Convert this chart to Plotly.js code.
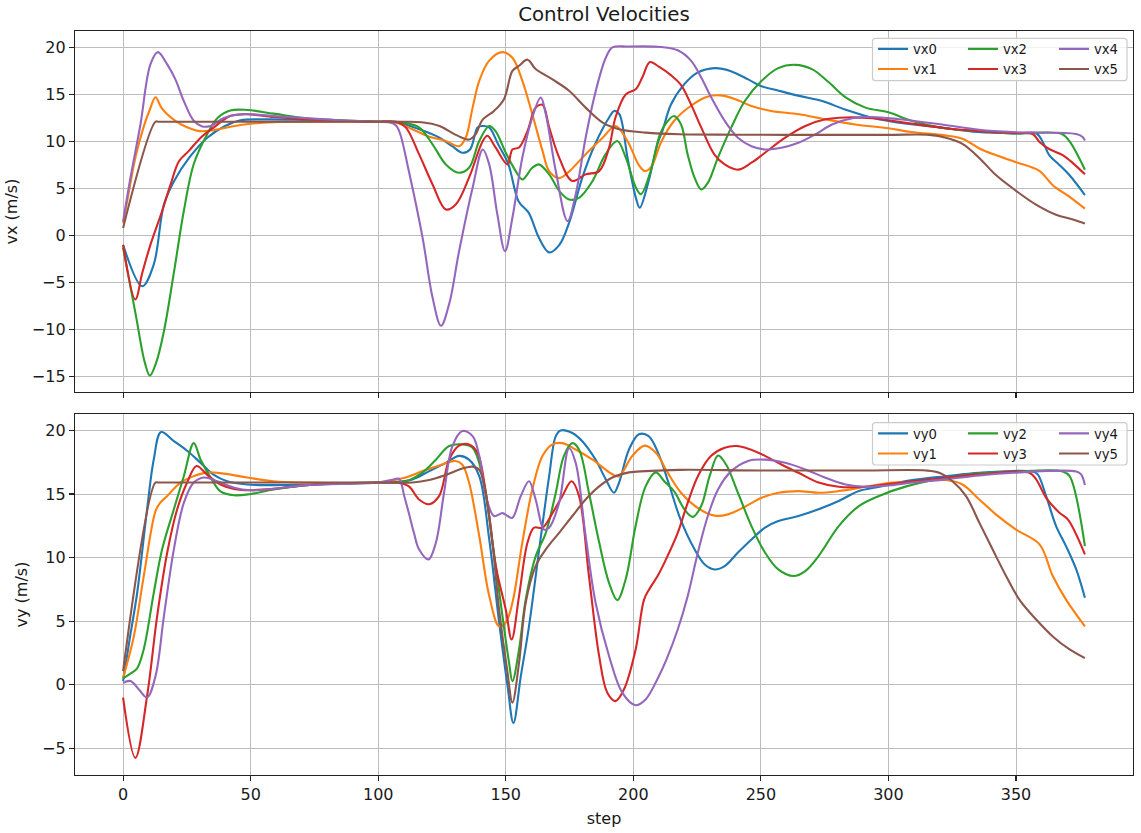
<!DOCTYPE html>
<html><head><meta charset="utf-8">
<script src="https://cdn.plot.ly/plotly-3.0.1.min.js"></script>
<style>html,body{margin:0;padding:0;background:#fff}#chart{width:1141px;height:833px}</style>
</head><body><div id="chart"></div>
<script>
// ---- data: [step, value] pairs ----
const vx0 = [[0,-1.0],[7.5,-5.4],[12,-3.1],[16,3.3],[20,5.8],[26,8.3],[33,10.4],[40,11.65],[46,12.25],[55,12.35],[70,12.3],[85,12.2],[100,12.1],[108,12.0],[116,11.3],[124,10.4],[129,9.5],[133,8.8],[136,9.15],[139,11.5],[141,11.65],[143.5,11.5],[147,9.7],[151,7.6],[155,3.65],[159,2.4],[163,-0.25],[167,-1.8],[171,-1.0],[175,1.5],[180,6.15],[185,9.7],[190.5,12.55],[192.5,13.25],[194.5,12.9],[197.7,8.3],[201,4.0],[202.5,2.95],[206,5.8],[209.5,9.8],[211.5,11.2],[214.7,13.9],[220,16.1],[225,17.3],[232,17.8],[238,17.5],[245,16.6],[250,15.9],[257,15.4],[265,14.85],[274,14.3],[283,13.4],[294,12.5],[304,12.0],[320,11.5],[335,11.0],[350,10.85],[358,10.85],[360.5,9.95],[363,8.55],[367,7.5],[371,6.4],[377,4.3]];
const vx1 = [[0,1.3],[2.5,5.0],[5,8.5],[8,11.5],[10.5,13.4],[12.7,14.7],[15,13.6],[17.3,12.9],[20.5,12.2],[24,11.65],[30,11.1],[35.5,11.2],[46,11.75],[59,12.05],[80,12.1],[100,12.1],[107,12.0],[113.4,11.3],[120,10.5],[126.5,10.05],[131.7,9.5],[134.3,10.4],[137,13.6],[139.6,16.45],[143.5,18.6],[148.7,19.5],[152.6,18.9],[156.5,16.45],[160.4,12.9],[164.4,9.0],[167,6.85],[171,6.1],[175,6.85],[181.3,8.65],[188,10.4],[193,11.65],[197.7,10.05],[202,7.56],[204.5,6.85],[207,7.3],[211,10.0],[216,12.2],[222.6,13.8],[229,14.75],[234,14.9],[240,14.5],[246,13.8],[254,13.25],[265,12.9],[275,12.36],[287,11.8],[300,11.4],[309,11.0],[322,10.65],[329,10.3],[336,9.2],[342,8.55],[350,7.8],[359,6.9],[364.4,5.35],[371,4.1],[377,2.85]];
const vx2 = [[0,-1.3],[5,-8.5],[8.5,-13.5],[10.5,-14.9],[13,-13.5],[16,-10.2],[20,-3.8],[23.8,2.6],[27.7,7.6],[33,10.8],[37,12.5],[42,13.3],[48.7,13.35],[59,12.96],[72,12.47],[85,12.25],[100,12.1],[110,12.0],[116,11.5],[121.3,9.7],[126.5,7.56],[131.7,6.67],[135.6,7.2],[139.6,10.05],[143.5,11.65],[146,11.1],[150,8.8],[153.9,6.85],[156.5,5.96],[160.4,7.2],[163,7.56],[167,6.5],[171,4.72],[174.8,3.83],[178.7,4.0],[184,5.78],[189,8.6],[193.7,10.05],[197,8.3],[201,5.1],[203,4.4],[206.5,6.6],[210.5,10.8],[213,12.0],[216,12.7],[218.7,11.8],[221.3,8.6],[224,6.15],[226.6,4.9],[229.2,5.6],[233.2,8.3],[238.4,11.5],[243.7,14.3],[250.3,16.45],[256.8,17.8],[263.4,18.15],[270,17.7],[276.6,16.3],[283.2,14.7],[291,13.6],[300,13.1],[309,12.2],[322,11.4],[336,11.1],[349,10.85],[368,10.8],[371,10.0],[377,7.0]];
const vx3 = [[0,-1.0],[4.8,-6.8],[7.5,-4.0],[10.7,-1.0],[15.3,2.6],[18.6,5.4],[21.9,7.9],[25.8,9.0],[30.4,10.4],[35.6,11.5],[42,12.7],[48.7,12.9],[59,12.6],[72,12.36],[85,12.2],[100,12.1],[107,12.1],[110.8,11.5],[116,8.65],[121.3,5.43],[126.5,2.77],[130.4,3.3],[135.6,6.15],[141,10.05],[142.8,10.6],[146,9.36],[150.7,7.56],[152.6,9.15],[155.2,9.36],[158.5,11.1],[161.7,13.6],[164.4,13.9],[167,11.5],[170.9,8.3],[176,5.8],[181.3,6.5],[186.6,6.85],[190.5,9.36],[193,12.55],[197,15.0],[200.9,15.55],[203.5,16.8],[206.5,18.45],[210,17.95],[214.7,17.05],[218.7,16.0],[222.6,13.95],[226.6,11.5],[231.8,8.6],[235.8,7.56],[241,7.0],[246.3,7.74],[251.6,8.8],[259.5,10.4],[267.4,11.65],[275.3,12.36],[283.2,12.55],[293.7,12.47],[304.2,12.1],[322.5,11.4],[335.6,11.1],[350,10.9],[356.5,10.8],[359.2,9.95],[363,9.2],[368.3,8.55],[372.3,7.7],[377,6.5]];
const vx4 = [[0,1.5],[3,6.3],[6.8,11.8],[10.7,18.2],[13.6,19.5],[17.3,18.2],[20.5,16.6],[23.8,14.3],[27.7,12.2],[31,11.6],[34.3,11.65],[39.5,12.5],[46,12.9],[59,12.7],[72,12.47],[85,12.25],[100,12.1],[105,12.0],[107,11.7],[108.5,10.9],[112,6.85],[117.4,-0.25],[121.3,-6.6],[124.6,-9.6],[127.8,-7.3],[131.7,-1.67],[137,5.08],[141,9.15],[143.5,7.56],[146.7,2.24],[149.7,-1.67],[152.6,1.88],[156.5,8.3],[160.4,12.55],[163.7,14.67],[165.7,12.9],[169.6,6.85],[174.2,1.53],[177.4,4.37],[181.3,10.4],[185.2,15.3],[189.2,18.9],[191.8,20.0],[198.3,20.1],[211,20.05],[217.4,19.7],[222.6,18.6],[226.6,16.8],[230.5,14.7],[235.8,12.2],[241,10.4],[246.3,9.5],[251.6,9.15],[258,9.33],[264.7,9.86],[271.3,10.75],[277.9,11.8],[285.8,12.47],[293.7,12.6],[304.2,12.36],[321,11.8],[335.6,11.25],[348.7,11.0],[373.6,10.8],[376,10.5],[377,10.1]];
const vx5 = [[0,0.8],[12.7,12.1],[14,12.1],[30,12.1],[60,12.1],[90,12.1],[110,12.1],[117,12.05],[124,11.65],[130.4,10.7],[135.6,10.2],[138,10.7],[141,12.35],[145.4,13.25],[149.3,14.5],[152.6,17.5],[155.2,18.05],[158.5,18.7],[161.7,17.7],[168.3,16.6],[174.8,15.4],[181.3,13.6],[188,12.0],[194.4,11.3],[204.8,10.94],[218,10.76],[240,10.72],[270,10.7],[300,10.7],[316,10.7],[322.5,10.4],[329,9.75],[335.6,8.25],[342,6.45],[350,4.75],[358,3.25],[365.7,2.2],[372.3,1.7],[377,1.27]];

const vy0 = [[0,0.3],[2.5,3.5],[5.5,7.2],[9.4,13.8],[12,17.7],[14.9,19.87],[19.9,19.16],[25.1,18.4],[30.4,17.45],[35.6,16.5],[40.8,16.0],[48.7,15.75],[59,15.7],[72,15.75],[85,15.85],[100,15.9],[107,15.95],[113.4,16.15],[120,16.8],[126.5,17.45],[131.7,18.0],[135.6,17.7],[139.6,16.4],[143.5,11.45],[147.4,4.9],[150.7,-0.1],[153,-3.0],[155.9,0.68],[159.1,4.6],[163.1,10.65],[167,16.4],[169.6,19.55],[171.5,20.0],[176.1,19.8],[180,19.15],[185.2,17.7],[189.2,16.15],[192.4,15.1],[194.4,15.9],[198.3,18.5],[202.2,19.7],[206,19.55],[210,18.1],[213.6,16.0],[218.5,13.0],[224,10.65],[228,9.46],[231.8,9.07],[235.8,9.33],[241,10.4],[246.3,11.43],[251.6,12.35],[256.8,12.87],[264.7,13.27],[272.6,13.8],[280.5,14.45],[288.4,15.23],[296,15.55],[308,16.05],[322.5,16.4],[335.6,16.67],[356.5,16.77],[358.5,16.54],[361.8,14.84],[365.7,12.48],[369.6,10.9],[373.6,9.07],[377,6.84]];
const vy1 = [[0,0.55],[4.2,3.8],[8.1,8.55],[12.7,13.65],[14.5,14.3],[17.3,14.85],[22.5,15.9],[27.7,16.4],[33,16.7],[39.5,16.6],[48.7,16.3],[59,16.0],[72,15.9],[100,15.9],[110.8,16.3],[117.4,16.8],[123.9,17.25],[130.4,17.6],[133,17.3],[135.6,15.9],[139.6,11.7],[143.5,7.0],[147.4,4.6],[150,4.9],[152.6,6.45],[156.5,11.2],[160.4,15.35],[164.4,18.0],[168.3,18.9],[172.2,19.0],[177.4,18.5],[184,17.7],[191.8,16.55],[194.4,16.4],[199.6,18.0],[204.5,18.8],[209,18.2],[213.4,16.7],[218.7,15.1],[225.3,13.9],[231.8,13.3],[237.1,13.4],[243.7,14.0],[250.3,14.7],[256.8,15.1],[264.7,15.23],[272.6,15.1],[280.5,15.23],[291,15.57],[301.6,15.9],[309.4,15.93],[322.5,16.1],[329,15.75],[335.6,14.57],[342.1,13.4],[350,12.2],[359.2,11.04],[364.4,8.55],[369.6,6.7],[377,4.6]];
const vy2 = [[0,0.5],[3,0.9],[5.5,1.3],[8.1,2.8],[12,7.2],[15.3,10.65],[19.9,13.8],[23.8,16.4],[27.7,19.0],[30.4,17.7],[34.3,16.3],[38.2,15.2],[43.5,14.9],[50,15.0],[59,15.35],[72,15.7],[100,15.9],[110.8,16.0],[117.4,16.7],[122.6,17.7],[127.8,18.77],[133,18.9],[137,18.64],[140.9,16.4],[144.8,11.2],[148.7,5.4],[151.3,1.73],[152.6,0.29],[155.2,2.78],[157.8,6.7],[161.7,10.1],[165.7,11.95],[169.6,15.1],[172.8,18.0],[176.1,19.0],[178.7,18.5],[182.6,15.1],[186.6,11.2],[190.5,8.0],[193.7,6.66],[197,8.3],[200.9,12.5],[204.8,15.6],[208.8,16.7],[212.1,16.0],[216,15.2],[220,13.8],[223.3,13.2],[226.6,14.05],[229.9,16.4],[233.2,18.03],[236.4,17.3],[241,15.1],[246.3,12.48],[251.6,10.4],[256.8,9.07],[262.8,8.55],[267.4,8.94],[272.6,10.12],[280.5,12.48],[288.4,14.05],[296.3,14.85],[307,15.6],[322.5,16.28],[335.6,16.62],[348.7,16.75],[368.3,16.77],[371,16.4],[377,10.9]];
const vy3 = [[0,-1.0],[4.8,-5.74],[9.4,-0.9],[13.35,5.4],[17.3,10.4],[21.2,13.8],[25.1,15.9],[28.8,17.2],[33,16.5],[38.2,15.75],[43.5,15.4],[50,15.3],[59,15.4],[72,15.7],[100,15.9],[107,15.9],[112,15.6],[116,14.57],[120,14.2],[123.9,14.85],[127.8,17.7],[131.7,18.8],[135.6,18.9],[138.9,18.25],[142.2,15.1],[146.1,9.33],[150,5.9],[152.3,3.56],[155.2,6.97],[158.5,11.17],[161.1,12.35],[164.4,12.35],[168.3,13.5],[172.2,14.85],[175.8,16.0],[178.7,14.85],[182.6,8.55],[186.6,2.25],[189.8,-0.63],[193,-1.28],[196.3,-0.37],[200.9,2.78],[204.2,6.7],[206.5,7.6],[209.5,8.55],[213.4,10.12],[217.4,11.95],[221.3,14.3],[225.3,16.4],[230.5,18.0],[235.8,18.64],[240.4,18.77],[245,18.56],[251.6,18.0],[258.2,17.3],[264.7,16.67],[272.6,15.9],[280.5,15.57],[291,15.57],[301.6,15.83],[309.4,16.0],[322.5,16.28],[335.6,16.54],[355.2,16.67],[357.9,16.15],[361.8,14.7],[367,13.53],[370.3,13.0],[377,10.25]];
const vy4 = [[0,0.16],[2.9,0.3],[6.2,-0.37],[9.4,-1.0],[12.7,0.68],[16,5.4],[19.9,10.65],[23.8,14.3],[27.7,15.9],[31.7,16.3],[36.9,16.0],[43.5,15.5],[50,15.3],[59,15.4],[72,15.7],[100,15.9],[106.3,16.15],[108.2,16.2],[110.2,14.85],[112,13.5],[114,11.95],[116,10.65],[119.7,9.85],[122.6,11.17],[125.8,15.1],[129.1,18.77],[133,19.95],[137,19.55],[139.6,18.0],[142.2,14.85],[145.4,13.27],[148.7,13.5],[150.7,13.27],[152.6,13.13],[155.9,14.85],[159.1,16.0],[161.7,14.57],[165,12.2],[167,12.35],[170.9,14.3],[174.8,18.6],[177.4,17.45],[181.3,11.7],[185.2,6.45],[190.5,2.25],[195.7,-0.63],[200.9,-1.6],[204.8,-1.15],[210,0.68],[213,2.0],[217.4,4.35],[221.3,6.97],[225.3,10.4],[229.2,13.27],[233.2,15.36],[238.4,16.8],[245,17.6],[251.6,17.7],[259.5,17.45],[267.4,16.93],[275.3,16.28],[283.2,15.75],[291,15.57],[301.6,15.7],[309.4,15.9],[322.5,16.15],[335.6,16.46],[348.7,16.67],[373.6,16.77],[375.5,16.54],[377,15.7]];
const vy5 = [[0,1.07],[12.7,15.9],[14,15.9],[30,15.9],[60,15.9],[100,15.9],[113.4,15.9],[120,16.1],[126.5,16.5],[133,17.0],[137,17.15],[139.6,16.9],[143.5,13.3],[147.4,5.9],[150.7,0.94],[152.6,-1.4],[155.2,1.73],[157.8,6.45],[161.7,9.33],[165.7,10.65],[170.9,11.95],[176.1,13.27],[181.3,14.57],[186.6,15.6],[191.8,16.3],[198.3,16.7],[204.8,16.8],[218,16.9],[250,16.85],[290,16.85],[314.7,16.85],[319.9,16.67],[325.1,16.0],[330.4,14.84],[335.6,12.75],[340.8,10.65],[346.1,8.55],[351.3,6.7],[357.9,5.13],[364.4,3.8],[371,2.78],[377,2.1]];

const xTicks = [0,50,100,150,200,250,300,350];
const vxTicks = [-15,-10,-5,0,5,10,15,20];
const vyTicks = [-5,0,5,10,15,20];
const vxNames = ['vx0','vx1','vx2','vx3','vx4','vx5'];
const vyNames = ['vy0','vy1','vy2','vy3','vy4','vy5'];

// ---- styling ----
const colors = ['#1f77b4','#ff7f0e','#2ca02c','#d62728','#9467bd','#8c564b'];
const legendIds = ['legend','legend','legend2','legend2','legend3','legend3'];
const legendIds2 = ['legend4','legend4','legend5','legend5','legend6','legend6'];

const traces = [];
[vx0,vx1,vx2,vx3,vx4,vx5].forEach((s,i)=>{
  traces.push({type:'scatter',mode:'lines',name:vxNames[i],
    x:s.map(p=>p[0]), y:s.map(p=>p[1]), xaxis:'x', yaxis:'y',
    line:{color:colors[i],width:2.1,shape:'spline',smoothing:1},
    legend:legendIds[i], hoverinfo:'skip'});
});
[vy0,vy1,vy2,vy3,vy4,vy5].forEach((s,i)=>{
  traces.push({type:'scatter',mode:'lines',name:vyNames[i],
    x:s.map(p=>p[0]), y:s.map(p=>p[1]), xaxis:'x2', yaxis:'y2',
    line:{color:colors[i],width:2.1,shape:'spline',smoothing:1},
    legend:legendIds2[i], hoverinfo:'skip'});
});

const W=1141,H=833,ML=75,MR=8,MT=31,MB=58;
const PW=W-ML-MR, PH=H-MT-MB;
const px2x = p=>(p-ML)/PW;
const py2y = p=>(H-MB-p)/PH;

const FS=16;
const axBase = {showline:true, mirror:true, linecolor:'#222', linewidth:1.2,
  showgrid:true, gridcolor:'#bdbdbd', gridwidth:1, zeroline:false,
  ticks:'outside', ticklen:5, tickwidth:1.1, tickcolor:'#222',
  tickfont:{size:FS,color:'#1a1a1a'}, fixedrange:true};

function legendAt(pxLeft, pyTop){
  return {x:px2x(pxLeft), y:py2y(pyTop), xref:'paper', yref:'paper',
    xanchor:'left', yanchor:'top', orientation:'v', bgcolor:'rgba(0,0,0,0)',
    borderwidth:0, font:{size:13.2,color:'#1a1a1a'}, tracegroupgap:0};
}
function boxShape(x0p,x1p,y0p,y1p){
  const r=3;
  const x0=px2x(x0p), x1=px2x(x1p), yt=py2y(y0p), yb=py2y(y1p);
  const rx=r/PW, ry=r/PH;
  const path = `M${x0+rx},${yb} L${x1-rx},${yb} Q${x1},${yb} ${x1},${yb+ry} L${x1},${yt-ry} Q${x1},${yt} ${x1-rx},${yt} L${x0+rx},${yt} Q${x0},${yt} ${x0},${yt-ry} L${x0},${yb+ry} Q${x0},${yb} ${x0+rx},${yb} Z`;
  return {type:'path', xref:'paper', yref:'paper', path:path,
    fillcolor:'rgba(255,255,255,0.8)', line:{color:'#cccccc',width:1.2}, layer:'above'};
}

const colX=[873,963,1054];
const layout = {
  width:W, height:H, margin:{l:ML,r:MR,t:MT,b:MB,pad:0},
  paper_bgcolor:'#ffffff', plot_bgcolor:'#ffffff',
  font:{family:'DejaVu Sans, sans-serif', size:FS, color:'#1a1a1a'},
  title:{text:'Control Velocities', font:{size:19.8,color:'#1a1a1a'},
    x:0.5, xref:'paper', xanchor:'center', y:1-14/H, yref:'container', yanchor:'middle'},
  showlegend:true,
  xaxis:Object.assign({}, axBase, {domain:[0,1], anchor:'y', range:[-18.85,395.85],
    tickvals:xTicks, showticklabels:false}),
  yaxis:Object.assign({}, axBase, {domain:[py2y(392),1], anchor:'x', range:[-16.65,21.75],
    tickvals:vxTicks, title:{text:'vx (m/s)', font:{size:FS}, standoff:10}}),
  xaxis2:Object.assign({}, axBase, {domain:[0,1], anchor:'y2', range:[-18.85,395.85],
    tickvals:xTicks, title:{text:'step', font:{size:FS}, standoff:9}}),
  yaxis2:Object.assign({}, axBase, {domain:[0,py2y(414)], anchor:'x2', range:[-7.09,21.29],
    tickvals:vyTicks, title:{text:'vy (m/s)', font:{size:FS}, standoff:10}}),
  legend:legendAt(colX[0],33.8), legend2:legendAt(colX[1],33.8), legend3:legendAt(colX[2],33.8),
  legend4:legendAt(colX[0],418.3), legend5:legendAt(colX[1],418.3), legend6:legendAt(colX[2],418.3),
  shapes:[boxShape(872.5,1127,38.3,80.7), boxShape(872.5,1127,422.7,465)]
};

Plotly.newPlot('chart', traces, layout, {displayModeBar:false, responsive:false, staticPlot:true});
</script>
</body></html>
